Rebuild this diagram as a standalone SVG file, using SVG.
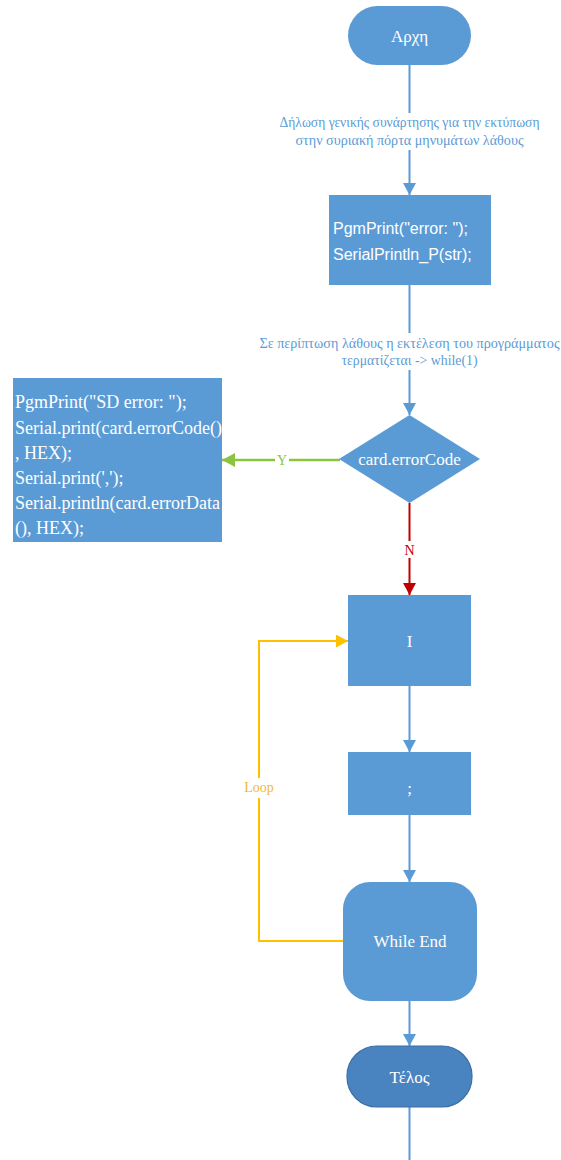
<svg xmlns="http://www.w3.org/2000/svg" width="561" height="1160" viewBox="0 0 561 1160">
  <style>
    .node { fill: #5b9bd5; }
    .end { fill: #4a84c0; stroke: #3b6fa5; stroke-width: 1.2; }
    .ntext { font-family: "Liberation Serif", "DejaVu Serif", "Times New Roman", serif; font-size: 17px; fill: #ffffff; text-anchor: middle; }
    .code { font-family: "Liberation Sans", Arial, sans-serif; font-size: 16px; fill: #ffffff; }
    .serif-code { font-family: "Liberation Serif", "Times New Roman", serif; font-size: 18px; fill: #ffffff; }
    .flow { fill: none; stroke: #5b9bd5; stroke-width: 2; }
    .yes { fill: none; stroke: #8cc43f; stroke-width: 2.5; }
    .no { fill: none; stroke: #c00000; stroke-width: 2; }
    .loop { fill: none; stroke: #ffc000; stroke-width: 2; }
    .lbl { font-family: "Liberation Serif", "DejaVu Serif", "Times New Roman", serif; font-size: 14px; text-anchor: middle; }
    .lbl-blue { fill: #5b9bd5; }
    .bg { fill: #ffffff; }
  </style>
  <defs>
    <marker id="arrowBlue" markerUnits="userSpaceOnUse" markerWidth="12" markerHeight="13" refX="12" refY="6.5" orient="auto">
      <path d="M0,0 L12,6.5 L0,13 z" fill="#5b9bd5"/>
    </marker>
    <marker id="arrowGreen" markerUnits="userSpaceOnUse" markerWidth="13" markerHeight="14" refX="13" refY="7" orient="auto">
      <path d="M0,0 L13,7 L0,14 z" fill="#8cc43f"/>
    </marker>
    <marker id="arrowRed" markerUnits="userSpaceOnUse" markerWidth="12" markerHeight="13" refX="12" refY="6.5" orient="auto">
      <path d="M0,0 L12,6.5 L0,13 z" fill="#c00000"/>
    </marker>
    <marker id="arrowYellow" markerUnits="userSpaceOnUse" markerWidth="12" markerHeight="13" refX="12" refY="6.5" orient="auto">
      <path d="M0,0 L12,6.5 L0,13 z" fill="#ffc000"/>
    </marker>
  </defs>

  <rect width="561" height="1160" fill="#ffffff"/>

  <!-- connectors -->
  <g id="connectors">
    <line class="flow" x1="409.5" y1="65" x2="409.5" y2="195" marker-end="url(#arrowBlue)"/>
    <rect class="bg" x="270" y="113" width="280" height="37"/>
    <text class="lbl lbl-blue" x="409.5" y="127" textLength="260" lengthAdjust="spacingAndGlyphs">Δήλωση γενικής συνάρτησης για την εκτύπωση</text>
    <text class="lbl lbl-blue" x="409.5" y="145" textLength="228" lengthAdjust="spacingAndGlyphs">στην συριακή πόρτα μηνυμάτων λάθους</text>

    <line class="flow" x1="409.5" y1="285" x2="409.5" y2="415" marker-end="url(#arrowBlue)"/>
    <rect class="bg" x="252" y="333" width="310" height="37"/>
    <text class="lbl lbl-blue" x="409.5" y="348" textLength="300" lengthAdjust="spacingAndGlyphs">Σε περίπτωση λάθους η εκτέλεση του προγράμματος</text>
    <text class="lbl lbl-blue" x="409.5" y="365" textLength="136" lengthAdjust="spacingAndGlyphs">τερματίζεται -&gt; while(1)</text>

    <line class="yes" x1="340" y1="460" x2="222" y2="460" marker-end="url(#arrowGreen)"/>
    <rect class="bg" x="275" y="452" width="14" height="16"/>
    <text class="lbl" x="282" y="465" fill="#8cc43f">Y</text>

    <line class="no" x1="409.5" y1="503" x2="409.5" y2="595" marker-end="url(#arrowRed)"/>
    <rect class="bg" x="401" y="541" width="17" height="17"/>
    <text class="lbl" x="409.5" y="555" fill="#c00000">N</text>

    <line class="flow" x1="409.5" y1="686" x2="409.5" y2="752" marker-end="url(#arrowBlue)"/>
    <line class="flow" x1="409.5" y1="815" x2="409.5" y2="882" marker-end="url(#arrowBlue)"/>
    <line class="flow" x1="409.5" y1="1001" x2="409.5" y2="1046" marker-end="url(#arrowBlue)"/>
    <line class="flow" x1="409.5" y1="1107" x2="409.5" y2="1160"/>

    <polyline class="loop" points="343,941 259,941 259,641 348,641" marker-end="url(#arrowYellow)"/>
    <rect class="bg" x="242" y="778" width="34" height="20"/>
    <text class="lbl" x="259" y="792" fill="#f2b736">Loop</text>
  </g>

  <!-- start -->
  <g id="start">
    <rect class="node" x="348" y="6" width="123" height="59" rx="29.5" ry="29.5"/>
    <text class="ntext" x="409.5" y="42">Αρχη</text>
  </g>

  <!-- error print routine -->
  <g id="printError">
    <rect class="node" x="329" y="195" width="162" height="90"/>
    <text class="code" x="333" y="234">PgmPrint("error: ");</text>
    <text class="code" x="333" y="260">SerialPrintln_P(str);</text>
  </g>

  <!-- decision -->
  <g id="errorCode">
    <polygon class="node" points="409.5,415 480,459 409.5,503 339,459"/>
    <text class="ntext" x="409.5" y="465">card.errorCode</text>
  </g>

  <!-- SD error output -->
  <g id="sdError">
    <rect class="node" x="13" y="378" width="209" height="164"/>
    <text class="serif-code" x="15" y="408">PgmPrint("SD error: ");</text>
    <text class="serif-code" x="15" y="434">Serial.print(card.errorCode()</text>
    <text class="serif-code" x="15" y="459">, HEX);</text>
    <text class="serif-code" x="15" y="484">Serial.print(',');</text>
    <text class="serif-code" x="15" y="509">Serial.println(card.errorData</text>
    <text class="serif-code" x="15" y="534">(), HEX);</text>
  </g>

  <!-- loop body -->
  <g id="stepI">
    <rect class="node" x="348" y="595" width="123" height="91"/>
    <text class="ntext" x="409.5" y="647">I</text>
  </g>

  <g id="stepSemicolon">
    <rect class="node" x="348" y="752" width="123" height="63"/>
    <text class="ntext" x="409.5" y="794">;</text>
  </g>

  <g id="whileEnd">
    <rect class="node" x="343" y="882" width="134" height="119" rx="27" ry="27"/>
    <text class="ntext" x="410" y="947">While End</text>
  </g>

  <!-- end -->
  <g id="end">
    <rect class="end" x="347" y="1046" width="125" height="61" rx="30" ry="30"/>
    <text class="ntext" x="409.5" y="1083">Τέλος</text>
  </g>
</svg>
